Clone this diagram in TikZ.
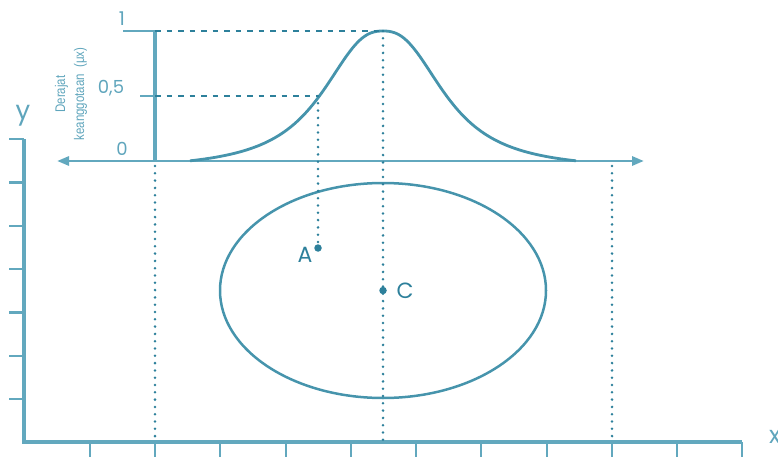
\documentclass[tikz,border=0pt]{standalone}
\usepackage{fontspec}
\setmainfont{Poppins}
\newfontfamily\narrowfont{Liberation Sans}
\usetikzlibrary{arrows.meta,shapes.geometric}
\definecolor{axiscol}{RGB}{98,168,190}
\definecolor{curvecol}{RGB}{70,148,172}
\definecolor{dotcol}{RGB}{45,128,155}
\definecolor{txtcol}{RGB}{95,165,188}
\tikzset{
  axisline/.style={draw=axiscol, line width=3.2pt},
  tickline/.style={draw=axiscol, line width=2.5pt},
  dotline/.style={draw=dotcol, line width=2.8pt, line cap=round, dash pattern=on 0pt off 7.3pt},
  dashline/.style={draw=dotcol, line width=2.2pt, dash pattern=on 5.5pt off 6pt},
  curveline/.style={draw=curvecol, line width=2.8pt},
  lbl/.style={text=txtcol, inner sep=0pt},
  ptdot/.style={circle, fill=dotcol, inner sep=0pt, minimum size=7.5pt},
}
\begin{document}
\begin{tikzpicture}[x=1pt, y=-1pt]
\useasboundingbox (0,0) rectangle (778,457);
% main axes
\coordinate (O) at (24,442);
\coordinate (Ytop) at (24,139);
\coordinate (Xend) at (742,442);
\draw[axisline] (Ytop) -- (O) -- (Xend);
\foreach \yy in {139,182.5,226,269,312.5,356,399}
  \draw[tickline] (9,\yy) -- (24,\yy);
\foreach \xx in {90,155,220,286,351,416,481,547,612,677,742}
  \draw[tickline] (\xx,442) -- (\xx,460);
\node[lbl, font=\fontsize{26}{26}\selectfont] (ylab) at (23,116) {y};
\node[lbl, font=\fontsize{24}{24}\selectfont, anchor=west] (xlab) at (769,437) {x};
% membership function axes
\coordinate (M0) at (155,161);
\coordinate (M1) at (155,31);
\coordinate (Mh) at (155,96);
\draw[axisline] (M1) -- (M0);
\draw[tickline] (123,31) -- (M1);
\draw[tickline] (140,96) -- (Mh);
\draw[draw=axiscol, line width=2.8pt, {Triangle[length=12pt,width=9pt]}-{Triangle[length=12pt,width=9pt]}] (57,161) -- (644,161);
\node[lbl, font=\fontsize{19}{19}\selectfont] (one) at (122,19) {1};
\node[lbl, font=\fontsize{18}{18}\selectfont] (half) at (111,88) {0,5};
\node[lbl, font=\fontsize{18}{18}\selectfont] (zero) at (122,149) {0};
\node[lbl, rotate=90, align=center, font=\narrowfont\fontsize{14}{19}\selectfont] (ylabel) at (71,94)
  {\scalebox{0.82}[1]{Derajat}\\\scalebox{0.82}[1]{keanggotaan\ \ (μx)}};
% bell curve
\draw[curveline] plot[domain=190:576, samples=160, smooth]
  (\x, {161 - 130*((1/(1+pow(abs(\x-383)/67,2.5)) - 0.065)/0.935)});
% peak and half guides
\coordinate (P) at (383,31);
\coordinate (H) at (318,96);
\draw[dashline] (M1) -- (P);
\draw[dashline] (Mh) -- (H);
% ellipse
\node[draw=curvecol, line width=2.5pt, ellipse, minimum width=326pt, minimum height=215pt, inner sep=0pt] (E) at (383,290.5) {};
% points
\node[ptdot] (A) at (318,248) {};
\node[ptdot] (C) at (383,290.5) {};
\node[lbl, text=dotcol, font=\fontsize{22}{22}\selectfont] (Alab) at (305,255) {A};
\node[lbl, text=dotcol, font=\fontsize{22}{22}\selectfont] (Clab) at (405,291) {C};
% dotted verticals
\draw[dotline] (H) -- (A);
\draw[dotline] (P) -- (383,442);
\draw[dotline] (155,166) -- (155,442);
\draw[dotline] (612,166) -- (612,442);
\end{tikzpicture}
\end{document}
